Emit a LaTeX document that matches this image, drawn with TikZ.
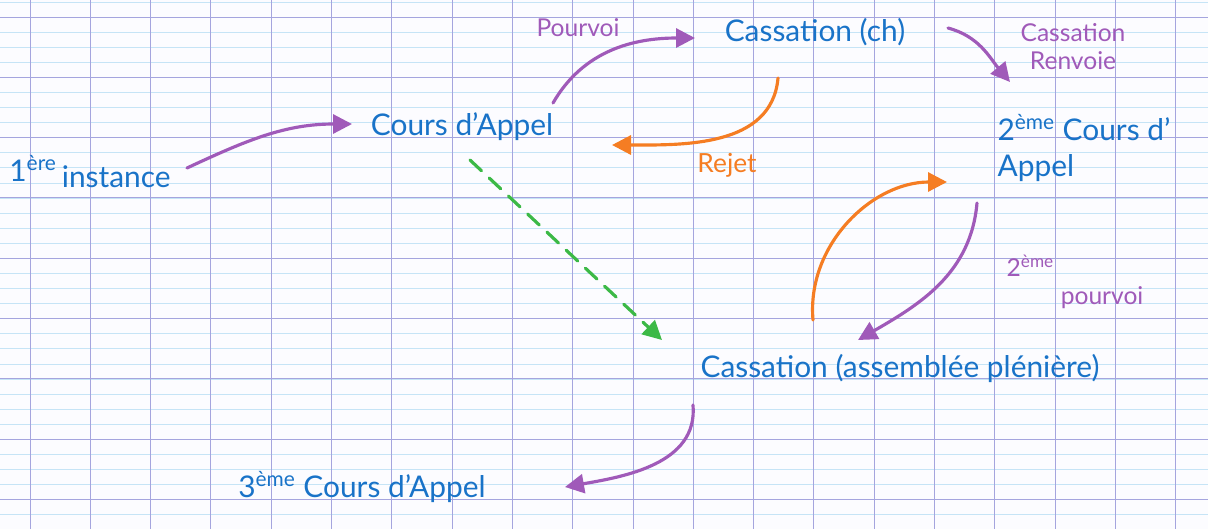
\documentclass[tikz,border=0pt]{standalone}
\usepackage{fontspec}
\setmainfont{Lato}
\usepackage{xcolor}
\usetikzlibrary{arrows.meta, calc}
\definecolor{inkblue}{RGB}{25,115,200}
\definecolor{inkviolet}{RGB}{160,90,185}
\definecolor{inkorange}{RGB}{245,125,35}
\definecolor{inkgreen}{RGB}{60,185,70}
\definecolor{gridlight}{RGB}{198,228,246}
\definecolor{gridheavy}{RGB}{165,165,222}
\definecolor{paper}{RGB}{252,252,255}

\begin{document}
\begin{tikzpicture}[
    x=0.02cm, y=0.02cm,
    court/.style={text=inkblue, font=\fontsize{17}{21}\selectfont, inner sep=1pt, align=left},
    note/.style={font=\fontsize{14}{16}\selectfont, inner sep=1pt, align=left},
    link/.style={line width=1.8pt, line cap=round, -{Triangle[length=3.8mm, width=3.8mm]}},
    light/.style={gridlight, line width=0.45pt},
    heavy/.style={gridheavy, line width=0.55pt}
]
\useasboundingbox (0,0) rectangle (1208,-529);
\fill[paper] (0,0) rectangle (1208,-529);

% squared paper
\foreach \k in {0,...,34} \draw[light] (0,{-2-15.08*\k}) -- (1208,{-2-15.08*\k});
\foreach \k in {0,...,8} \draw[heavy] (0,{-17-60.3*\k}) -- (1208,{-17-60.3*\k});
\foreach \k in {0,...,19} \draw[heavy] ({30+60.3*\k},0) -- ({30+60.3*\k},-529);

% courts
\node[court] (inst) at (90,-172) {1\textsuperscript{ère}\,\raisebox{-0.4ex}{instance}};
\node[court] (appel) at (462,-127) {Cours d'Appel};
\node[court] (cassch) at (815,-32) {Cassation (ch)};
\node[court] (appel2) at (1084,-148) {2\textsuperscript{ème} Cours d'\\Appel};
\node[court] (cassap) at (900,-368) {Cassation (assemblée plénière)};
\node[court] (appel3) at (362,-487) {3\textsuperscript{ème} Cours d'Appel};

% labels
\node[note, text=inkviolet] (pourvoi) at (578,-28) {Pourvoi};
\node[note, text=inkviolet, align=center] (renvoi) at (1073,-47) {Cassation\\Renvoie};
\node[note, text=inkorange, font=\fontsize{15}{17}\selectfont] (rejet) at (727,-165) {Rejet};
\node[note, text=inkviolet] (pourvoi2) at (1075,-282) {2\textsuperscript{ème}\\\hspace*{2.2em}pourvoi};

% arrows
\draw[link, inkviolet] ($(inst.center)+(97,4)$) to[out=25, in=180] ($(appel.center)+(-110,3)$);
\draw[link, inkviolet] ($(appel.center)+(91,24)$) to[out=60, in=180] ($(cassch.center)+(-120,-6)$);
\draw[link, inkorange] ($(cassch.center)+(-37,-46)$) to[out=-95, in=0] ($(appel.center)+(150,-18)$);
\draw[link, inkviolet] ($(cassch.center)+(133,4)$) to[out=-15, in=130] ($(appel2.center)+(-74,66)$);
\draw[link, inkgreen, dash pattern=on 9pt off 6pt] ($(appel.center)+(8,-33)$) -- ($(cassap.center)+(-238,28)$);
\draw[link, inkorange] ($(cassap.center)+(-87,48)$) to[out=95, in=180] ($(appel2.center)+(-137,-34)$);
\draw[link, inkviolet] ($(appel2.center)+(-107,-55)$) to[out=-95, in=30] ($(cassap.center)+(-42,28)$);
\draw[link, inkviolet] ($(cassap.center)+(-207,-37)$) to[out=-85, in=10] ($(appel3.center)+(203,0)$);
\end{tikzpicture}
\end{document}
